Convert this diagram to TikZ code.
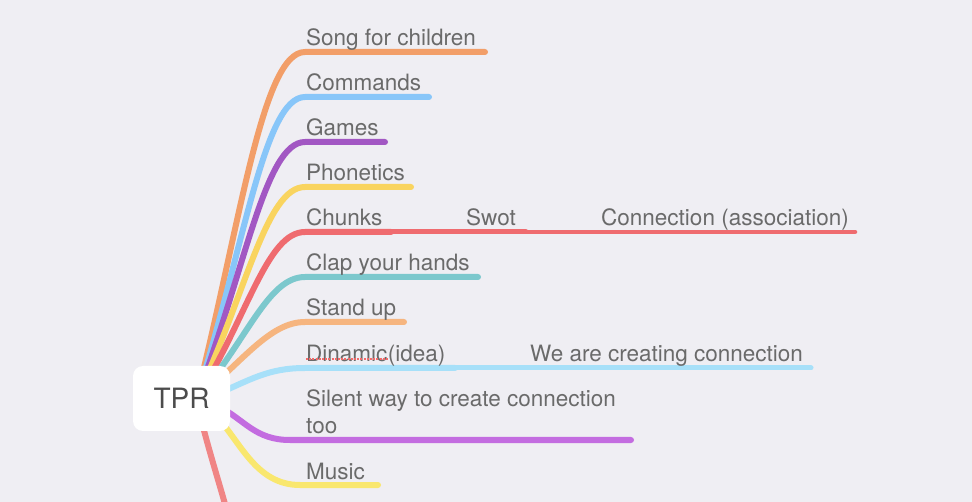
\documentclass[tikz,border=0pt]{standalone}
\usepackage{fontspec}
\setmainfont{TeX Gyre Heros}
\definecolor{bg}{HTML}{EFEEF3}
\definecolor{txtgray}{HTML}{6A6A6A}
\definecolor{tprgray}{HTML}{4C4C4C}
\definecolor{cSong}{HTML}{F29E68}
\definecolor{cCmd}{HTML}{88C6F9}
\definecolor{cGame}{HTML}{A257C3}
\definecolor{cPhon}{HTML}{F9D45F}
\definecolor{cChunk}{HTML}{EF6B6F}
\definecolor{cClap}{HTML}{7CC8CD}
\definecolor{cStand}{HTML}{F6B57F}
\definecolor{cDin}{HTML}{A7E0F9}
\definecolor{cSil}{HTML}{C36CE0}
\definecolor{cMus}{HTML}{F9E76E}
\definecolor{cDown}{HTML}{F08585}
\definecolor{spell}{HTML}{F26A6A}
\begin{document}
\begin{tikzpicture}[x=1pt,y=-1pt,
  lbl/.style={anchor=base west,inner sep=0pt,text=txtgray,font=\fontsize{22.5}{27}\selectfont},
  br/.style={line width=6pt,line cap=round},
  subbr/.style={line width=5pt,line cap=round},
  subsub/.style={line width=4.5pt,line cap=round},
  rootbox/.style={fill=white,rounded corners=10pt,minimum width=97pt,minimum height=65pt,inner sep=0pt,text=tprgray,font=\fontsize{28}{32}\selectfont}
]
\useasboundingbox[fill=bg] (0,0) rectangle (972,502);

% start points (hidden under root)
\coordinate (s0) at (196,400);
\coordinate (sDin) at (215,395);
\coordinate (sSil) at (218,406);
\coordinate (sMus) at (215,415);
\coordinate (sDown) at (200,415);

% branch corners and ends
\coordinate (e1) at (305,52);  \coordinate (f1) at (485,52);
\coordinate (e2) at (305,97);  \coordinate (f2) at (429,97);
\coordinate (e3) at (305,142); \coordinate (f3) at (385,142);
\coordinate (e4) at (305,187); \coordinate (f4) at (411,187);
\coordinate (e5) at (305,232); \coordinate (m5) at (391,232); \coordinate (n5) at (526,232); \coordinate (f5) at (855,232);
\coordinate (e6) at (305,277); \coordinate (f6) at (478,277);
\coordinate (e7) at (305,322); \coordinate (f7) at (404,322);
\coordinate (e8) at (305,368); \coordinate (m8) at (455,368); \coordinate (f8) at (811,368);
\coordinate (e9) at (290,440); \coordinate (f9) at (631,440);
\coordinate (e10) at (300,485); \coordinate (f10) at (378,485);
\coordinate (fDown) at (228,515);

% branches
\draw[br,cSong]  (s0) .. controls (240,226) and (262,52)  .. (e1) -- (f1);
\draw[br,cCmd]   (s0) .. controls (244,249) and (264,97)  .. (e2) -- (f2);
\draw[br,cGame]  (s0) .. controls (245,271) and (265,142) .. (e3) -- (f3);
\draw[br,cPhon]  (s0) .. controls (246,294) and (266,187) .. (e4) -- (f4);
\draw[br,cChunk] (s0) .. controls (248,316) and (267,232) .. (e5) -- (m5);
\draw[subbr,cChunk] (m5) -- (n5);
\draw[subsub,cChunk] (n5) -- (f5);
\draw[br,cClap]  (s0) .. controls (248,339) and (268,277) .. (e6) -- (f6);
\draw[br,cStand] (s0) .. controls (243,361) and (270,322) .. (e7) -- (f7);
\draw[br,cDin]   (sDin) .. controls (250,380) and (268,368) .. (e8) -- (m8);
\draw[subbr,cDin] (m8) -- (f8);
\draw[br,cSil]   (sSil) .. controls (245,420) and (255,440) .. (e9) -- (f9);
\draw[br,cMus]   (sMus) .. controls (240,440) and (255,485) .. (e10) -- (f10);
\draw[br,cDown]  (sDown) .. controls (210,455) and (220,485) .. (fDown);

% root
\node[rootbox] (tpr) at (181.5,398.5) {TPR};

% labels
\node[lbl] (t1) at (306,46) {Song for children};
\node[lbl] (t2) at (306,91) {Commands};
\node[lbl] (t3) at (306,136) {Games};
\node[lbl] (t4) at (306,181) {Phonetics};
\node[lbl] (t5) at (306,226) {Chunks};
\node[lbl] (t5b) at (466,226) {Swot};
\node[lbl] (t5c) at (601,226) {Connection (association)};
\node[lbl] (t6) at (306,271) {Clap your hands};
\node[lbl] (t7) at (306,316) {Stand up};
\node[lbl] (t8w) at (306,361.5) {Dinamic};
\node[lbl] (t8p) at (t8w.base east) {(idea)};
\node[lbl] (t8b) at (530,361.5) {We are creating connection};
\node[lbl] (t9a) at (306,407) {Silent way to create connection};
\node[lbl] (t9b) at (306,434) {too};
\node[lbl] (t10) at (306,479) {Music};

% spell-check underline
\draw[spell,line width=2pt,dash pattern=on 2pt off 1.2pt]
  ([yshift=2.8pt]t8w.base west) -- ([yshift=2.8pt]t8w.base east);
\end{tikzpicture}
\end{document}
